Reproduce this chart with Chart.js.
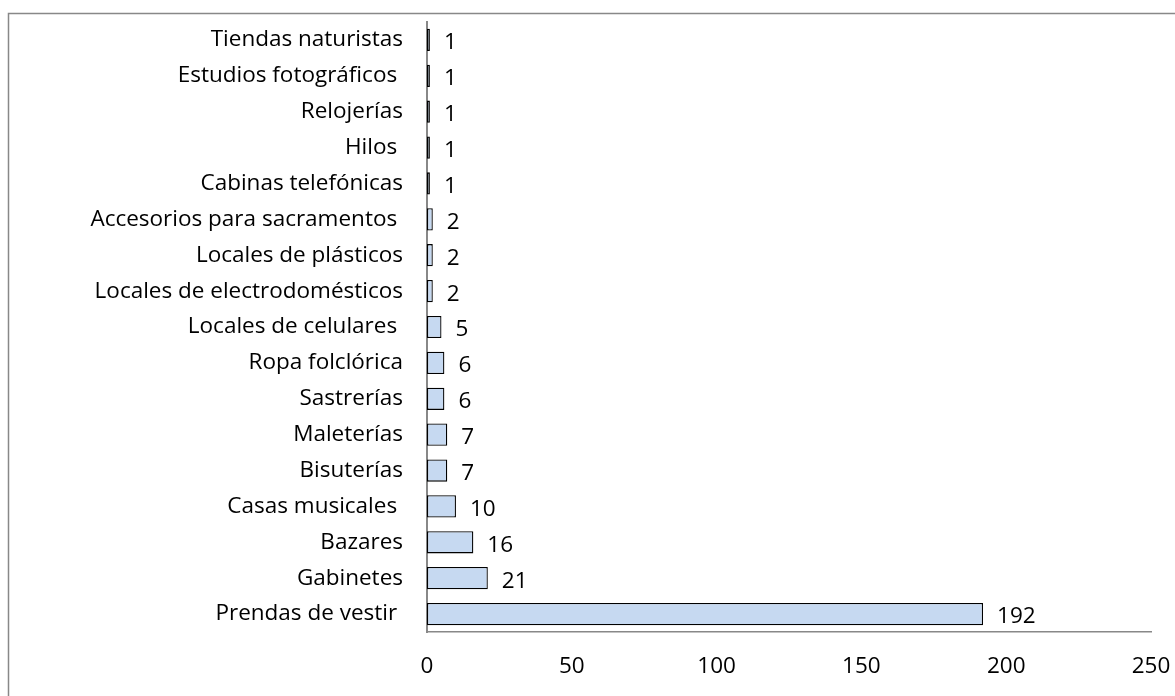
<!DOCTYPE html>
<html>
<head>
<meta charset="utf-8">
<script src="https://cdn.jsdelivr.net/npm/chart.js@4"></script>
<style>
  html, body { margin: 0; padding: 0; background: #fff; }
  #wrap { width: 1175px; height: 696px; }
</style>
</head>
<body>
<div id="wrap"><canvas id="chart" width="1175" height="696"></canvas></div>
<script>
const categories = [
  'Tiendas naturistas', 'Estudios fotográficos ', 'Relojerías', 'Hilos ',
  'Cabinas telefónicas', 'Accesorios para sacramentos ', 'Locales de plásticos',
  'Locales de electrodomésticos', 'Locales de celulares ', 'Ropa folclórica',
  'Sastrerías', 'Maleterías', 'Bisuterías', 'Casas musicales ', 'Bazares',
  'Gabinetes', 'Prendas de vestir '
];
const counts = [1, 1, 1, 1, 1, 2, 2, 2, 5, 6, 6, 7, 7, 10, 16, 21, 192];
const xTicks = [0, 50, 100, 150, 200, 250];

const FONT = '"Open Sans", Lato, sans-serif';
const FONT_SIZE = 22.5;

// frame around the chart, cut off at right and bottom like the original
const framePlugin = {
  id: 'frame',
  beforeDraw(chart) {
    const ctx = chart.ctx;
    ctx.save();
    ctx.strokeStyle = '#888888';
    ctx.lineWidth = 1.5;
    ctx.strokeRect(8.5, 13.5, 1200, 720);
    ctx.restore();
  }
};

// value labels to the right of each bar
const valueLabels = {
  id: 'valueLabels',
  afterDatasetsDraw(chart) {
    const ctx = chart.ctx;
    const meta = chart.getDatasetMeta(0);
    ctx.save();
    ctx.font = FONT_SIZE + 'px ' + FONT;
    ctx.fillStyle = '#000';
    ctx.textAlign = 'left';
    ctx.textBaseline = 'middle';
    meta.data.forEach((bar, i) => {
      ctx.fillText(String(counts[i]), bar.x + 14, bar.y + 3);
    });
    ctx.restore();
  }
};

new Chart(document.getElementById('chart'), {
  type: 'bar',
  data: {
    labels: categories,
    datasets: [{
      data: counts,
      backgroundColor: '#C6D9F1',
      borderColor: '#000000',
      borderWidth: 1.3,
      borderSkipped: false,
      barPercentage: 0.62,
      categoryPercentage: 1
    }]
  },
  options: {
    indexAxis: 'y',
    responsive: false,
    animation: false,
    layout: { padding: { top: 22, right: 24, left: 0, bottom: 0 } },
    plugins: {
      legend: { display: false },
      tooltip: { enabled: false }
    },
    scales: {
      x: {
        min: 0,
        max: 250,
        afterBuildTicks(scale) { scale.ticks = xTicks.map(v => ({ value: v })); },
        afterFit(scale) {
          scale.height = 64;
          scale.paddingLeft = 0;
          scale.paddingRight = 0;
        },
        grid: { display: false, drawTicks: false },
        border: { display: true, color: '#888888', width: 1.5 },
        ticks: { color: '#000', font: { size: FONT_SIZE, family: FONT }, padding: 21 }
      },
      y: {
        afterFit(scale) {
          scale.width = 427;
          scale.paddingTop = 0;
          scale.paddingBottom = 0;
        },
        grid: { display: false, drawTicks: false },
        border: { display: true, color: '#888888', width: 2 },
        ticks: { color: '#000', font: { size: FONT_SIZE, family: FONT }, padding: 24 }
      }
    }
  },
  plugins: [framePlugin, valueLabels]
});
</script>
</body>
</html>
